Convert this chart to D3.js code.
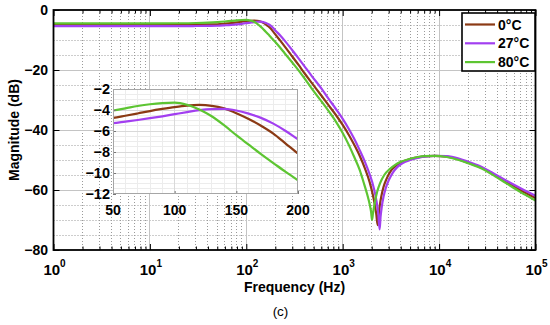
<!DOCTYPE html>
<html><head><meta charset="utf-8">
<script src="https://cdn.jsdelivr.net/npm/d3@7"></script>
<style>
body{margin:0;background:#fff}
text{font-family:"Liberation Sans",Arial,Helvetica,sans-serif}
</style>
</head><body>
<svg id="c" width="550" height="325"></svg>
<script>
// ---------- data ----------
const xDecades = [1, 10, 100, 1000, 10000, 100000];
const xTickExp = ["0", "1", "2", "3", "4", "5"];
const yTicks = [0, -20, -40, -60, -80];
const yTickLabels = ["0", "\u221220", "\u221240", "\u221260", "\u221280"];
const insetXTicks = [50, 100, 150, 200];
const insetYTicks = [-2, -4, -6, -8, -10, -12];
const insetYTickLabels = ["\u22122", "\u22124", "\u22126", "\u22128", "\u221210", "\u221212"];
const seriesNames = ["0\u00b0C", "27\u00b0C", "80\u00b0C"];
const seriesColors = ["#8b3a14", "#a23ff0", "#5dc532"];

const freq0C = [1,5,10,20,30,40,50,60,70,80,90,100,110,120,130,140,150,160,170,180,190,200,
  225,250,300,350,400,480,600,700,850,1000,1150,1300,1500,1700,1900,2050,2150,2230,2305,
  2360,2430,2520,2650,2850,3200,3600,4000,5000,6000,7000,9000,12000,16000,20000,28000,35000,50000,70000,100000];
const mag0C = [-4.95,-4.95,-4.94,-4.92,-4.88,-4.82,
  -4.75,-4.55,-4.33,-4.10,-3.90,-3.72,-3.58,-3.52,-3.60,-3.85,-4.30,-4.85,-5.50,-6.25,-7.20,-8.15,
  -10.2,-12.1,-15.5,-18.4,-21.0,-24.4,-28.5,-31.4,-35.0,-38.3,
  -41.5,-44.6,-48.6,-52.8,-57.3,-61.5,-64.8,-68.0,-71.7,
  -68.5,-65.0,-62.0,-59.0,-56.3,-53.4,-51.8,-50.9,
  -49.7,-49.1,-48.8,-48.6,-48.9,-49.8,-50.9,-52.7,-54.4,-57.4,-60.1,-62.7];

const freq27C = [1,5,10,20,30,40,50,60,70,80,90,100,110,120,130,140,150,160,170,180,190,200,
  225,250,300,350,400,480,600,700,850,1000,1150,1300,1500,1700,1900,2100,2250,2340,2416,
  2470,2550,2650,2800,3000,3300,3700,4200,5000,6000,7000,9000,12000,16000,20000,28000,35000,50000,70000,100000];
const mag27C = [-5.40,-5.40,-5.39,-5.37,-5.34,-5.30,
  -5.25,-5.10,-4.95,-4.78,-4.60,-4.40,-4.20,-4.02,-3.92,-3.90,-4.05,-4.35,-4.75,-5.30,-6.00,-6.80,
  -8.5,-10.2,-13.4,-16.2,-18.7,-22.1,-26.1,-29.2,-33.0,-36.3,
  -39.5,-42.6,-46.7,-50.6,-54.7,-59.3,-64.0,-68.0,-73.1,
  -69.0,-65.3,-62.3,-59.3,-56.8,-54.3,-52.3,-51.0,
  -50.0,-49.3,-48.9,-48.6,-48.7,-49.5,-50.6,-52.4,-54.1,-56.9,-59.4,-61.9];

const freq80C = [1,5,10,20,30,40,50,60,70,80,90,100,110,120,130,140,150,160,170,180,190,200,
  225,250,300,350,400,480,600,700,850,1000,1150,1300,1500,1650,1800,1900,1970,2015,
  2060,2120,2180,2300,2450,2700,3100,3500,4000,5000,6000,7000,9000,12000,16000,20000,28000,35000,50000,70000,100000];
const mag80C = [-4.45,-4.45,-4.44,-4.41,-4.34,-4.22,
  -4.05,-3.84,-3.62,-3.45,-3.34,-3.30,-3.50,-3.95,-4.60,-5.45,-6.40,-7.30,-8.20,-9.05,-9.90,-10.70,
  -12.6,-14.4,-17.5,-20.2,-22.7,-26.3,-30.4,-33.3,-37.2,-41.0,
  -44.8,-48.6,-53.3,-57.5,-61.6,-64.6,-67.3,-70.0,
  -67.8,-65.4,-63.3,-60.1,-57.6,-55.0,-52.9,-51.6,-50.6,
  -49.6,-49.0,-48.7,-48.6,-49.0,-50.0,-51.1,-52.9,-54.7,-57.8,-60.7,-63.5];

const seriesFreq = [freq0C, freq27C, freq80C];
const seriesMag = [mag0C, mag27C, mag80C];

// ---------- layout ----------
const L = 53.5, R = 535.5, T = 10, B = 250;
const svg = d3.select("#c");
const x = d3.scaleLog().domain([1, 1e5]).range([L, R]);
const y = d3.scaleLinear().domain([-80, 0]).range([B, T]);
const crisp = v => Math.round(v - 0.5) + 0.5;

const series = seriesNames.map((n, i) => ({
  name: n, color: seriesColors[i],
  pts: seriesFreq[i].map((f, j) => [f, seriesMag[i][j]])
}));

const minorX = [];
for (let d = 1; d < 1e5; d *= 10) for (let k = 2; k <= 9; k++) minorX.push(d * k);
const minorY = d3.range(-75, 0, 5).filter(v => v % 20 !== 0);

// grid
const grid = svg.append("g");
grid.selectAll(".mgx").data(minorX).join("line")
  .attr("x1", d => crisp(x(d))).attr("x2", d => crisp(x(d)))
  .attr("y1", T).attr("y2", B)
  .attr("stroke", "#9a9a9a").attr("stroke-width", 1).attr("stroke-dasharray", "1,2");
grid.selectAll(".mgy").data(minorY).join("line")
  .attr("y1", d => crisp(y(d))).attr("y2", d => crisp(y(d)))
  .attr("x1", L).attr("x2", R)
  .attr("stroke", "#9a9a9a").attr("stroke-width", 1).attr("stroke-dasharray", "1,2");
grid.selectAll(".Mgx").data(xDecades.slice(1, -1)).join("line")
  .attr("x1", d => crisp(x(d))).attr("x2", d => crisp(x(d)))
  .attr("y1", T).attr("y2", B)
  .attr("stroke", "#c4c4c4").attr("stroke-width", 1);
grid.selectAll(".Mgy").data(yTicks.slice(1, -1)).join("line")
  .attr("y1", d => crisp(y(d))).attr("y2", d => crisp(y(d)))
  .attr("x1", L).attr("x2", R)
  .attr("stroke", "#c4c4c4").attr("stroke-width", 1);

// curves
const line = d3.line().x(d => x(d[0])).y(d => y(d[1])).curve(d3.curveMonotoneX);
svg.append("g").selectAll("path").data(series).join("path")
  .attr("d", d => line(d.pts)).attr("fill", "none")
  .attr("stroke", d => d.color).attr("stroke-width", 2.2).attr("stroke-linejoin", "round");

// axes ticks (inward)
function styleAxis(g) { g.select(".domain").remove(); g.selectAll("line").attr("stroke", "#000"); }
svg.append("g").attr("transform", `translate(0,${B})`)
  .call(d3.axisBottom(x).tickValues(xDecades).tickSize(-6).tickFormat("")).call(styleAxis);
svg.append("g").attr("transform", `translate(0,${B})`)
  .call(d3.axisBottom(x).tickValues(minorX).tickSize(-3.5).tickFormat("")).call(styleAxis);
svg.append("g").attr("transform", `translate(0,${T})`)
  .call(d3.axisTop(x).tickValues(xDecades).tickSize(-6).tickFormat("")).call(styleAxis);
svg.append("g").attr("transform", `translate(0,${T})`)
  .call(d3.axisTop(x).tickValues(minorX).tickSize(-3.5).tickFormat("")).call(styleAxis);
svg.append("g").attr("transform", `translate(${L},0)`)
  .call(d3.axisLeft(y).tickValues(yTicks).tickSize(-6).tickFormat("")).call(styleAxis);
svg.append("g").attr("transform", `translate(${R},0)`)
  .call(d3.axisRight(y).tickValues(yTicks).tickSize(-6).tickFormat("")).call(styleAxis);

// frame
svg.append("rect").attr("x", L).attr("y", T).attr("width", R - L).attr("height", B - T)
  .attr("fill", "none").attr("stroke", "#000").attr("stroke-width", 1.8);

// tick labels
const xl = svg.append("g").selectAll("text").data(xDecades).join("text")
  .attr("x", d => x(d) + 1).attr("y", 275).attr("text-anchor", "middle")
  .attr("font-size", 15).attr("font-weight", "bold");
xl.append("tspan").text("10");
xl.append("tspan").attr("dy", -8).attr("font-size", 10).text((d, i) => xTickExp[i]);

svg.append("g").selectAll("text").data(yTicks).join("text")
  .attr("x", 48).attr("y", d => y(d)).attr("dy", "0.36em").attr("text-anchor", "end")
  .attr("font-size", 14).attr("font-weight", "bold").text((d, i) => yTickLabels[i]);

svg.append("text").attr("x", (L + R) / 2).attr("y", 292).attr("text-anchor", "middle")
  .attr("font-size", 14).attr("font-weight", "bold").text("Frequency (Hz)");
svg.append("text").attr("transform", "translate(19,130) rotate(-90)").attr("text-anchor", "middle")
  .attr("font-size", 14).attr("font-weight", "bold").text("Magnitude (dB)");
svg.append("text").attr("x", 280.5).attr("y", 316).attr("text-anchor", "middle")
  .attr("font-family", "'Liberation Serif','Times New Roman',serif").attr("font-size", 13.5).text("(c)");

// ---------- inset ----------
const IL = 113, IR = 298, IT = 89, IB = 194;
const xi = d3.scaleLinear().domain([50, 200]).range([IL, IR]);
const yi = d3.scaleLinear().domain([-12, -2]).range([IB, IT]);
const inset = svg.append("g");
inset.append("rect").attr("x", IL).attr("y", IT).attr("width", IR - IL).attr("height", IB - IT).attr("fill", "#fff");
const ixMinor = d3.range(60, 200, 10).filter(v => v % 50 !== 0);
const iyMinor = d3.range(-11.5, -2, 0.5).filter(v => v % 2 !== 0);
inset.selectAll(".ix").data(ixMinor).join("line")
  .attr("x1", d => crisp(xi(d))).attr("x2", d => crisp(xi(d))).attr("y1", IT).attr("y2", IB)
  .attr("stroke", "#ececec");
inset.selectAll(".iy").data(iyMinor).join("line")
  .attr("y1", d => crisp(yi(d))).attr("y2", d => crisp(yi(d))).attr("x1", IL).attr("x2", IR)
  .attr("stroke", "#ececec");
inset.selectAll(".iX").data(insetXTicks.slice(1, -1)).join("line")
  .attr("x1", d => crisp(xi(d))).attr("x2", d => crisp(xi(d))).attr("y1", IT).attr("y2", IB)
  .attr("stroke", "#d9d9d9");
inset.selectAll(".iY").data(insetYTicks.slice(1, -1)).join("line")
  .attr("y1", d => crisp(yi(d))).attr("y2", d => crisp(yi(d))).attr("x1", IL).attr("x2", IR)
  .attr("stroke", "#d9d9d9");

svg.append("clipPath").attr("id", "ic").append("rect")
  .attr("x", IL).attr("y", IT).attr("width", IR - IL).attr("height", IB - IT);
const iline = d3.line().x(d => xi(d[0])).y(d => yi(d[1])).curve(d3.curveMonotoneX);
inset.append("g").attr("clip-path", "url(#ic)").selectAll("path").data(series).join("path")
  .attr("d", d => iline(d.pts.filter(p => p[0] >= 40 && p[0] <= 225)))
  .attr("fill", "none").attr("stroke", d => d.color).attr("stroke-width", 2.2);

function styleInset(g) { g.select(".domain").remove(); g.selectAll("line").attr("stroke", "#777"); }
inset.append("g").attr("transform", `translate(0,${IB})`)
  .call(d3.axisBottom(xi).tickValues(insetXTicks).tickSize(-3).tickFormat("")).call(styleInset);
inset.append("g").attr("transform", `translate(${IL},0)`)
  .call(d3.axisLeft(yi).tickValues(insetYTicks).tickSize(-3).tickFormat("")).call(styleInset);
inset.append("rect").attr("x", IL + 0.5).attr("y", IT + 0.5).attr("width", IR - IL - 1).attr("height", IB - IT - 1)
  .attr("fill", "none").attr("stroke", "#a6a6a6").attr("stroke-width", 1);

inset.append("g").selectAll("text").data(insetXTicks).join("text")
  .attr("x", d => xi(d)).attr("y", 215).attr("text-anchor", "middle")
  .attr("font-size", 14).attr("font-weight", "bold").text(d => d);
inset.append("g").selectAll("text").data(insetYTicks).join("text")
  .attr("x", 110).attr("y", d => yi(d)).attr("dy", "0.36em").attr("text-anchor", "end")
  .attr("font-size", 14.5).attr("font-weight", "bold").text((d, i) => insetYTickLabels[i]);

// ---------- legend ----------
const lg = svg.append("g");
lg.append("rect").attr("x", 462).attr("y", 13).attr("width", 73).attr("height", 58)
  .attr("fill", "#fff").attr("stroke", "#000").attr("stroke-width", 1.6);
const rows = lg.selectAll("g").data(series).join("g")
  .attr("transform", (d, i) => `translate(0,${24.5 + i * 18.8})`);
rows.append("line").attr("x1", 465).attr("x2", 495).attr("y1", 0).attr("y2", 0)
  .attr("stroke", d => d.color).attr("stroke-width", 2.2);
rows.append("text").attr("x", 498).attr("y", 0).attr("dy", "0.36em")
  .attr("font-size", 14).attr("font-weight", "bold").text(d => d.name);
</script>
</body></html>
